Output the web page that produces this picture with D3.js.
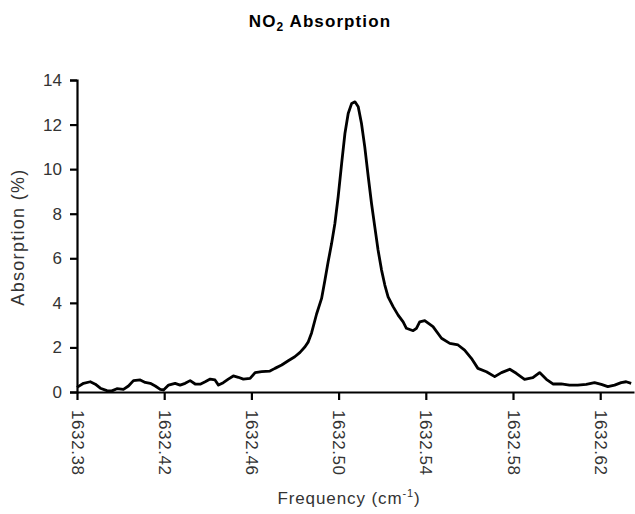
<!DOCTYPE html>
<html>
<head>
<meta charset="utf-8">
<script src="https://cdn.jsdelivr.net/npm/d3@7"></script>
<style>
  body { margin: 0; background: #fff; }
  svg { display: block; font-family: "Liberation Sans", Arial, sans-serif; }
</style>
</head>
<body>
<div id="chart"></div>
<script>
const width = 635;
const height = 514;

// frequency offsets (cm-1 above 1632.38)
const freqOffset = [
  0.0000, 0.0030, 0.0061, 0.0084, 0.0107, 0.0137, 0.0160, 0.0183, 0.0213, 0.0236,
  0.0259, 0.0290, 0.0313, 0.0336, 0.0359, 0.0382, 0.0397, 0.0420, 0.0450, 0.0473,
  0.0496, 0.0519, 0.0542, 0.0565, 0.0588, 0.0611, 0.0633, 0.0649, 0.0671, 0.0694,
  0.0717, 0.0740, 0.0763, 0.0794, 0.0817, 0.0847, 0.0885, 0.0908, 0.0939, 0.0969,
  0.0999, 0.1023, 0.1046, 0.1061, 0.1076, 0.1099, 0.1122, 0.1137, 0.1152, 0.1168,
  0.1183, 0.1198, 0.1214, 0.1229, 0.1244, 0.1260, 0.1275, 0.1290, 0.1305, 0.1320,
  0.1336, 0.1351, 0.1366, 0.1381, 0.1397, 0.1412, 0.1427, 0.1450, 0.1473, 0.1496,
  0.1511, 0.1542, 0.1557, 0.1572, 0.1595, 0.1633, 0.1672, 0.1710, 0.1748, 0.1778,
  0.1809, 0.1839, 0.1878, 0.1916, 0.1947, 0.1985, 0.2015, 0.2053, 0.2091, 0.2122,
  0.2153, 0.2183, 0.2221, 0.2259, 0.2297, 0.2336, 0.2374, 0.2405, 0.2435, 0.2466,
  0.2496, 0.2519, 0.2542
];

// absorption (%)
const absorption = [
  0.21, 0.39, 0.46, 0.35, 0.17, 0.06, 0.05, 0.15, 0.12, 0.27,
  0.51, 0.54, 0.43, 0.39, 0.27, 0.12, 0.09, 0.31, 0.39, 0.31,
  0.39, 0.51, 0.36, 0.35, 0.46, 0.58, 0.54, 0.31, 0.42, 0.58,
  0.72, 0.66, 0.58, 0.61, 0.87, 0.91, 0.94, 1.06, 1.21, 1.40,
  1.58, 1.78, 2.03, 2.25, 2.65, 3.50, 4.20, 5.00, 5.84, 6.67,
  7.56, 8.76, 10.26, 11.60, 12.50, 12.95, 13.02, 12.80, 12.05, 11.00,
  9.66, 8.46, 7.41, 6.37, 5.47, 4.80, 4.27, 3.83, 3.45, 3.15,
  2.86, 2.75, 2.86, 3.15, 3.20, 2.93, 2.41, 2.18, 2.11, 1.88,
  1.51, 1.06, 0.91, 0.69, 0.87, 1.02, 0.84, 0.57, 0.64, 0.87,
  0.57, 0.36, 0.36, 0.31, 0.31, 0.34, 0.42, 0.34, 0.24, 0.31,
  0.42, 0.46, 0.39
];

const xTicks = [1632.38, 1632.42, 1632.46, 1632.50, 1632.54, 1632.58, 1632.62];
const yTicks = [0, 2, 4, 6, 8, 10, 12, 14];

const data = freqOffset.map((d, i) => ({ freq: 1632.38 + d, value: absorption[i] }));

const margin = { top: 80, right: 1, bottom: 122, left: 77 };

const svg = d3.select('#chart')
  .append('svg')
  .attr('width', width)
  .attr('height', height);

const xScale = d3.scaleLinear()
  .domain([1632.38, 1632.6355])
  .range([margin.left, width - margin.right]);

const yScale = d3.scaleLinear()
  .domain([0, 14])
  .range([height - margin.bottom, margin.top]);

// title
const title = svg.append('text')
  .attr('x', 320)
  .attr('y', 27)
  .attr('text-anchor', 'middle')
  .style('font-size', '17px')
  .style('font-weight', 'bold')
  .style('letter-spacing', '1.1px');
title.append('tspan').text('NO');
title.append('tspan').text('2').attr('dy', 4).style('font-size', '12px');
title.append('tspan').text(' Absorption').attr('dy', -4);

// y axis
const yAxis = d3.axisLeft(yScale)
  .tickValues(yTicks)
  .tickSize(7)
  .tickPadding(8)
  .tickFormat(d3.format('d'));

svg.append('g')
  .attr('class', 'y-axis')
  .attr('transform', `translate(${margin.left},0)`)
  .call(yAxis)
  .call(g => g.selectAll('path, line').attr('stroke', '#000').attr('stroke-width', 2.2))
  .call(g => g.selectAll('text').style('font-size', '17px').attr('fill', '#333'));

// x axis
const xAxis = d3.axisBottom(xScale)
  .tickValues(xTicks)
  .tickSize(8)
  .tickSizeOuter(0)
  .tickFormat(d3.format('.2f'));

svg.append('g')
  .attr('class', 'x-axis')
  .attr('transform', `translate(0,${yScale(0)})`)
  .call(xAxis)
  .call(g => g.selectAll('path, line').attr('stroke', '#000').attr('stroke-width', 2.2))
  .call(g => g.selectAll('text')
    .style('font-size', '17px')
    .style('letter-spacing', '0.6px')
    .attr('fill', '#333')
    .attr('text-anchor', 'start')
    .attr('transform', 'rotate(90)')
    .attr('x', 18)
    .attr('y', 0)
    .attr('dy', '0.35em'));

// axis titles
svg.append('text')
  .attr('transform', `translate(24,${(yScale(0) + yScale(14)) / 2 + 1}) rotate(-90)`)
  .attr('text-anchor', 'middle')
  .attr('fill', '#333')
  .style('font-size', '18px')
  .style('letter-spacing', '1.3px')
  .text('Absorption (%)');

const xLabel = svg.append('text')
  .attr('x', 349)
  .attr('y', 504)
  .attr('text-anchor', 'middle')
  .attr('fill', '#333')
  .style('font-size', '17px')
  .style('letter-spacing', '0.9px');
xLabel.append('tspan').text('Frequency (cm');
xLabel.append('tspan').text('-1').attr('dy', -7).style('font-size', '11px');
xLabel.append('tspan').text(')').attr('dy', 7);

// spectrum
const line = d3.line()
  .x(d => xScale(d.freq))
  .y(d => yScale(d.value));

svg.append('path')
  .datum(data)
  .attr('fill', 'none')
  .attr('stroke', '#000')
  .attr('stroke-width', 2.8)
  .attr('stroke-linejoin', 'round')
  .attr('d', line);
</script>
</body>
</html>
